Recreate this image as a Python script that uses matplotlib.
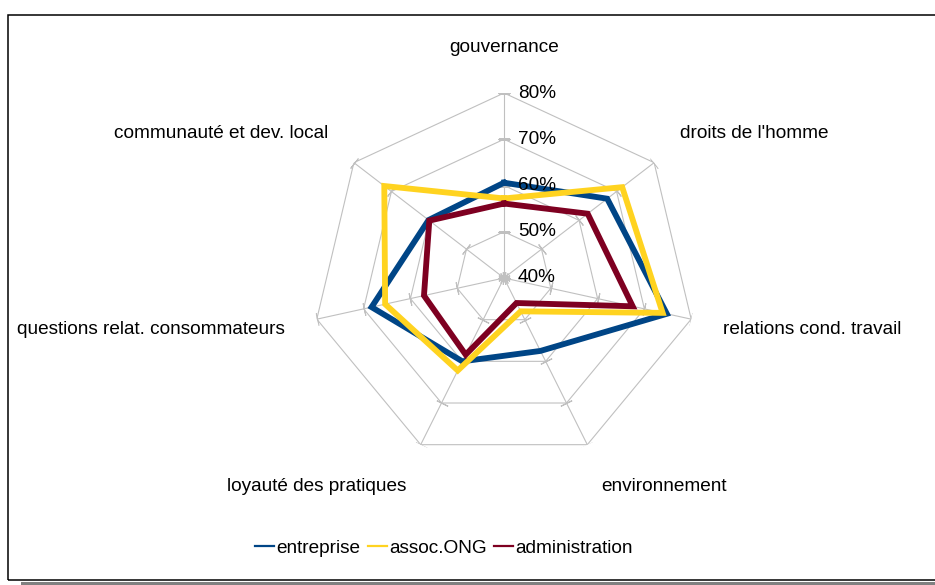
import numpy as np
import matplotlib
matplotlib.use("Agg")
import matplotlib.pyplot as plt
from matplotlib.patches import Rectangle
from matplotlib.lines import Line2D

plt.rcParams['font.family'] = ['Liberation Sans', 'DejaVu Sans']

# --- DATA ---
categories = ["gouvernance", "droits de l'homme", "relations cond. travail",
              "environnement", "loyauté des pratiques",
              "questions relat. consommateurs", "communauté et dev. local"]
entreprise = [0.606, 0.675, 0.748, 0.575, 0.60, 0.683, 0.601]
assoc_ong = [0.572, 0.715, 0.739, 0.48, 0.622, 0.654, 0.719]
administration = [0.561, 0.623, 0.675, 0.46, 0.584, 0.571, 0.599]
series_names = ["entreprise", "assoc.ONG", "administration"]
levels = [0.4, 0.5, 0.6, 0.7, 0.8]
level_labels = ["40%", "50%", "60%", "70%", "80%"]

# --- STYLE ---
COLORS = ['#004586', '#ffd320', '#7e0021']
GRID_COLOR = '#c0c0c0'
FS = 13.7

W, H = 935, 585
fig = plt.figure(figsize=(W / 100, H / 100), dpi=100)

# chart centre / radii in pixels (slightly wider than tall, like the source)
cx, cy, RX, RY = 504, 278, 192, 185
ax = fig.add_axes([(cx - RX) / W, (H - cy - RY) / H, 2 * RX / W, 2 * RY / H],
                  projection='polar')
ax.set_aspect('auto')
ax.set_theta_offset(np.pi / 2)
ax.set_theta_direction(-1)
ax.set_ylim(levels[0], levels[-1])
ax.grid(False)
ax.spines['polar'].set_visible(False)
ax.set_xticks([])
ax.set_yticks([])
ax.patch.set_alpha(0)

n = len(categories)
theta = np.linspace(0, 2 * np.pi, n, endpoint=False)
theta_c = np.append(theta, theta[0])

# heptagonal grid + spokes
for lv in levels[1:]:
    ax.plot(theta_c, [lv] * (n + 1), color=GRID_COLOR, lw=0.8, zorder=1)
for t in theta:
    ax.plot([t, t], [levels[0], levels[-1]], color=GRID_COLOR, lw=0.8, zorder=1)
    # small perpendicular tick marks on each spoke
    ang = np.degrees(np.arctan2(np.sin(t) * RX, np.cos(t) * RY))
    ax.plot([t] * len(levels), levels, linestyle='none',
            marker=(2, 2, 90 - ang), markersize=9, markeredgewidth=0.8,
            markeredgecolor=GRID_COLOR, zorder=1)

# series
for vals, col, name in zip([entreprise, assoc_ong, administration], COLORS, series_names):
    ax.plot(theta_c, vals + vals[:1], color=col, lw=4.2, label=name,
            solid_joinstyle='miter', zorder=3)

# radial labels on top spoke
for lv, lab in zip(levels, level_labels):
    ax.annotate(lab, xy=(0, lv), xytext=(10, 0), textcoords='offset points',
                ha='left', va='center', fontsize=FS, zorder=4)

# category labels (placed in axes fraction around the web)
LX, LY = 225, 231
for t, lab in zip(theta, categories):
    s, c = np.sin(t), np.cos(t)
    if abs(s) < 1e-6:
        ha = 'center'
    elif s > 0:
        ha = 'left'
    else:
        ha = 'right'
    ax.text(0.5 + 0.5 * s * LX / RX, 0.5 + 0.5 * c * LY / RY, lab,
            transform=ax.transAxes, ha=ha, va='center', fontsize=FS,
            clip_on=False)

# legend
handles = [Line2D([], [], color=c, lw=1.6) for c in COLORS]
fig.legend(handles, series_names, loc='center', ncol=3, frameon=False,
           bbox_to_anchor=(444 / W, (H - 548) / H), fontsize=FS,
           handlelength=1.0, handletextpad=0.1, columnspacing=0.4)

# chart frame (open on the right) with grey shadow
fig.add_artist(Rectangle((8 / W, (H - 580) / H), (W + 20) / W, (580 - 15) / H,
                         transform=fig.transFigure, fill=False,
                         edgecolor='black', lw=1.1, clip_on=False))
fig.add_artist(Rectangle((21 / W, 0), 1, (H - 582) / H,
                         transform=fig.transFigure, facecolor='#808080',
                         edgecolor='none'))

fig.savefig('out.png', dpi=100)
